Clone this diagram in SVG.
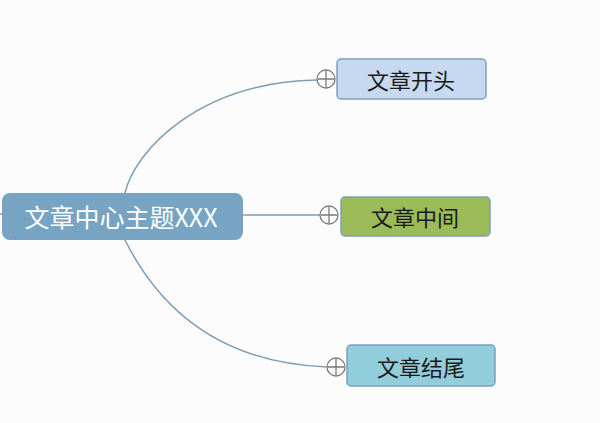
<svg xmlns="http://www.w3.org/2000/svg" width="600" height="423" viewBox="0 0 600 423">
<style>
.conn{fill:none;stroke:#7c9db9;stroke-width:1.5}
.node{stroke:#7f9fbd;stroke-width:1.5}
.t{font-family:"Noto Sans CJK SC","Noto Sans",sans-serif;text-anchor:middle;dominant-baseline:central}
.plus circle{fill:#fdfdfd;stroke:#7a7a7a;stroke-width:1.3}
.plus path{stroke:#7a7a7a;stroke-width:1.3}
</style>
<rect width="600" height="423" fill="#fcfcfc"/>
<g id="connectors">
<line class="conn" x1="0" y1="214" x2="3" y2="214"/>
<path class="conn" d="M125,193 C135,150 200,82 317,80"/>
<line class="conn" x1="243" y1="215" x2="320" y2="215"/>
<path class="conn" d="M125,240 C145,280 195,362 327,367"/>
</g>
<g id="center">
<rect x="2" y="193" width="241" height="47" rx="8" fill="#76a4c2"/>
<text class="t" x="121" y="216" font-size="25" fill="#ffffff">文章中心主题XXX</text>
</g>
<g id="top">
<rect class="node" x="337" y="59" width="149" height="40" rx="4" fill="#c6d9f0"/>
<text class="t" x="411" y="79" font-size="22" fill="#1a1a1a">文章开头</text>
<g class="plus"><circle cx="326" cy="79" r="9"/><path d="M318,79H334M326,71V87"/></g>
</g>
<g id="middle">
<rect class="node" x="341" y="197" width="149" height="39" rx="4" fill="#9bbb59"/>
<text class="t" x="415" y="216" font-size="22" fill="#1a1a1a">文章中间</text>
<g class="plus"><circle cx="329" cy="215" r="9"/><path d="M321,215H337M329,207V223"/></g>
</g>
<g id="bottom">
<rect class="node" x="347" y="345" width="148" height="41" rx="4" fill="#92cddc"/>
<text class="t" x="421" y="365.5" font-size="22" fill="#1a1a1a">文章结尾</text>
<g class="plus"><circle cx="336" cy="367" r="9"/><path d="M328,367H344M336,359V375"/></g>
</g>
</svg>
